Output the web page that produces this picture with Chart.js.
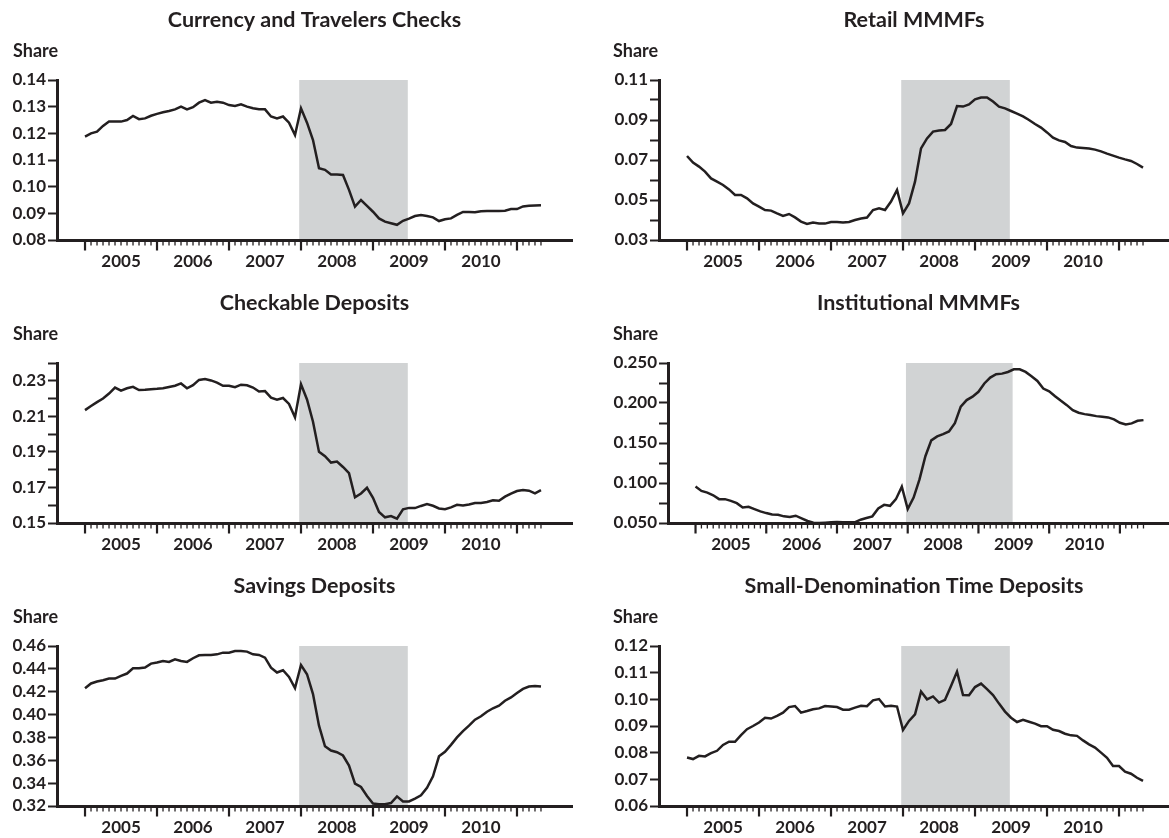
<!DOCTYPE html>
<html lang="en">
<head>
  <meta charset="UTF-8">
  <title>Shares of monetary assets</title>
  <style>
    body { margin: 0; background: #fff; }
    #wrap { position: relative; width: 1169px; height: 838px; overflow: hidden; }
    #wrap canvas { position: absolute; }
  </style>
</head>
<body>
  <div id="wrap">
    <canvas id="currencyChart" width="584" height="272" style="left:0;top:0"></canvas>
    <canvas id="retailChart" width="569" height="272" style="left:600px;top:0"></canvas>
    <canvas id="checkableChart" width="584" height="272" style="left:0;top:283px"></canvas>
    <canvas id="institutionalChart" width="569" height="272" style="left:600px;top:283px"></canvas>
    <canvas id="savingsChart" width="584" height="272" style="left:0;top:566px"></canvas>
    <canvas id="smallTimeChart" width="569" height="272" style="left:600px;top:566px"></canvas>
  </div>
  <script src="https://cdn.jsdelivr.net/npm/chart.js"></script>
  <script>
    // monthly observations, Jan 2005 .. May 2011 (index 0 = Jan 2005)
    const monthCount = 77;
    const yearLabels = ["2005", "2006", "2007", "2008", "2009", "2010"];
    // recession shading, in months since Jan 2005 (Dec 2007 - Jun 2009)
    const recession = [35.7, 53.8];
    const yAxisLabel = "Share";

    const currency = [
      0.1188, 0.1200, 0.1206, 0.1228, 0.1244, 0.1244, 0.1244, 0.1250, 0.1265, 0.1253,
      0.1256, 0.1266, 0.1273, 0.1279, 0.1284, 0.1290, 0.1300, 0.1290, 0.1298, 0.1315,
      0.1325, 0.1315, 0.1318, 0.1315, 0.1306, 0.1303, 0.1309, 0.1300, 0.1294, 0.1290,
      0.1290, 0.1263, 0.1256, 0.1263, 0.1240, 0.1194, 0.1294, 0.1240, 0.1175, 0.1069,
      0.1063, 0.1046, 0.1046, 0.1044, 0.0988, 0.0925, 0.0950, 0.0928, 0.0906, 0.0881,
      0.0869, 0.0863, 0.0857, 0.0872, 0.0880, 0.0890, 0.0894, 0.0890, 0.0885, 0.0871,
      0.0878, 0.0881, 0.0894, 0.0905, 0.0905, 0.0904, 0.0908, 0.0909, 0.0909, 0.0909,
      0.0910, 0.0916, 0.0916, 0.0926, 0.0928, 0.0929, 0.0930
    ];

    const retail = [
      0.0720, 0.0687, 0.0667, 0.0642, 0.0608, 0.0592, 0.0575, 0.0553, 0.0525, 0.0525,
      0.0508, 0.0483, 0.0467, 0.0450, 0.0447, 0.0433, 0.0420, 0.0430, 0.0413, 0.0392,
      0.0380, 0.0387, 0.0383, 0.0382, 0.0390, 0.0390, 0.0387, 0.0390, 0.0400, 0.0407,
      0.0412, 0.0450, 0.0458, 0.0450, 0.0492, 0.0550, 0.0433, 0.0483, 0.0592, 0.0758,
      0.0808, 0.0842, 0.0847, 0.0850, 0.0880, 0.0970, 0.0967, 0.0978, 0.1003, 0.1012,
      0.1013, 0.0992, 0.0967, 0.0958, 0.0945, 0.0932, 0.0918, 0.0900, 0.0880, 0.0862,
      0.0838, 0.0812, 0.0798, 0.0790, 0.0770, 0.0762, 0.0760, 0.0757, 0.0752, 0.0743,
      0.0732, 0.0722, 0.0712, 0.0703, 0.0695, 0.0680, 0.0662
    ];

    const checkable = [
      0.2135, 0.2158, 0.2180, 0.2200, 0.2228, 0.2262, 0.2245, 0.2258, 0.2266, 0.2248,
      0.2250, 0.2253, 0.2255, 0.2258, 0.2265, 0.2272, 0.2285, 0.2258, 0.2275, 0.2305,
      0.2310, 0.2302, 0.2290, 0.2272, 0.2272, 0.2264, 0.2278, 0.2275, 0.2262, 0.2240,
      0.2242, 0.2205, 0.2193, 0.2203, 0.2170, 0.2095, 0.2280, 0.2195, 0.2070, 0.1900,
      0.1876, 0.1840, 0.1846, 0.1815, 0.1780, 0.1645, 0.1666, 0.1698, 0.1642, 0.1562,
      0.1532, 0.1539, 0.1524, 0.1577, 0.1585, 0.1584, 0.1596, 0.1606, 0.1597, 0.1582,
      0.1578, 0.1588, 0.1602, 0.1598, 0.1604, 0.1612, 0.1613, 0.1618, 0.1628, 0.1625,
      0.1648, 0.1665, 0.1680, 0.1686, 0.1682, 0.1667, 0.1685
    ];

    const institutional = [
      0.0955, 0.0901, 0.0880, 0.0847, 0.0798, 0.0798, 0.0777, 0.0748, 0.0694, 0.0702,
      0.0674, 0.0645, 0.0624, 0.0607, 0.0603, 0.0583, 0.0574, 0.0591, 0.0558, 0.0525,
      0.0504, 0.0500, 0.0504, 0.0508, 0.0512, 0.0508, 0.0508, 0.0508, 0.0541, 0.0562,
      0.0583, 0.0682, 0.0727, 0.0715, 0.0798, 0.0955, 0.0674, 0.0818, 0.1045, 0.1335,
      0.1533, 0.1583, 0.1612, 0.1645, 0.1748, 0.1955, 0.2037, 0.2079, 0.2140, 0.2244,
      0.2318, 0.2360, 0.2367, 0.2388, 0.2421, 0.2421, 0.2388, 0.2334, 0.2276, 0.2180,
      0.2147, 0.2085, 0.2027, 0.1973, 0.1911, 0.1878, 0.1861, 0.1849, 0.1836, 0.1828,
      0.1820, 0.1795, 0.1753, 0.1732, 0.1745, 0.1778, 0.1786
    ];

    const savings = [
      0.4231, 0.4272, 0.4289, 0.4301, 0.4315, 0.4315, 0.4339, 0.4359, 0.4405, 0.4405,
      0.4411, 0.4446, 0.4455, 0.4469, 0.4461, 0.4484, 0.4469, 0.4461, 0.4493, 0.4519,
      0.4522, 0.4522, 0.4527, 0.4542, 0.4542, 0.4556, 0.4556, 0.4551, 0.4527, 0.4522,
      0.4498, 0.4411, 0.4368, 0.4388, 0.4330, 0.4231, 0.4434, 0.4353, 0.4179, 0.3903,
      0.3723, 0.3685, 0.3671, 0.3642, 0.3554, 0.3395, 0.3366, 0.3287, 0.3221, 0.3215,
      0.3215, 0.3226, 0.3284, 0.3240, 0.3240, 0.3265, 0.3293, 0.3360, 0.3460, 0.3635,
      0.3675, 0.3735, 0.3800, 0.3855, 0.3903, 0.3955, 0.3985, 0.4025, 0.4055, 0.4077,
      0.4121, 0.4150, 0.4188, 0.4225, 0.4245, 0.4251, 0.4245
    ];

    const smallTime = [
      0.0782, 0.0776, 0.0788, 0.0786, 0.0798, 0.0807, 0.0829, 0.0841, 0.0841, 0.0866,
      0.0888, 0.0900, 0.0913, 0.0931, 0.0928, 0.0938, 0.0950, 0.0971, 0.0975, 0.0950,
      0.0956, 0.0963, 0.0966, 0.0975, 0.0973, 0.0971, 0.0961, 0.0961, 0.0969, 0.0976,
      0.0974, 0.0996, 0.1001, 0.0973, 0.0976, 0.0973, 0.0885, 0.0919, 0.0944, 0.1029,
      0.1000, 0.1011, 0.0988, 0.0998, 0.1050, 0.1104, 0.1016, 0.1015, 0.1046, 0.1059,
      0.1038, 0.1016, 0.0984, 0.0954, 0.0931, 0.0915, 0.0923, 0.0916, 0.0909, 0.0899,
      0.0899, 0.0886, 0.0881, 0.0871, 0.0865, 0.0863, 0.0846, 0.0831, 0.0819, 0.0800,
      0.0781, 0.0750, 0.0750, 0.0729, 0.0721, 0.0706, 0.0694
    ];

    const ink = "#231f20";
    const shade = "#d1d3d4";
    const monthIndex = Array.from({ length: monthCount }, (_, i) => i);

    const recessionShade = {
      id: "recessionShade",
      beforeDraw(chart) {
        const { ctx, chartArea, scales: { x } } = chart;
        const x0 = x.getPixelForValue(recession[0]);
        const x1 = x.getPixelForValue(recession[1]);
        ctx.save();
        ctx.fillStyle = shade;
        ctx.fillRect(x0, chartArea.top, x1 - x0, chartArea.bottom - chartArea.top);
        ctx.restore();
      },
    };

    // small monthly ticks under the x axis, longer ones at each January
    const monthTicks = {
      id: "monthTicks",
      afterDraw(chart) {
        const { ctx, chartArea, scales: { x } } = chart;
        ctx.save();
        ctx.strokeStyle = ink;
        monthIndex.forEach((m) => {
          const px = x.getPixelForValue(m);
          const major = m % 12 === 0;
          ctx.lineWidth = major ? 2.2 : 1.3;
          ctx.beginPath();
          ctx.moveTo(px, chartArea.bottom);
          ctx.lineTo(px, chartArea.bottom + (major ? 10.5 : 5.5));
          ctx.stroke();
        });
        ctx.restore();
      },
    };

    const panelText = {
      id: "panelText",
      afterDraw(chart, args, opts) {
        const { ctx, chartArea } = chart;
        ctx.save();
        ctx.fillStyle = ink;
        ctx.textBaseline = "middle";
        ctx.font = "bold 21.5px Lato";
        ctx.textAlign = "center";
        ctx.fillText(opts.title, (chartArea.left + chartArea.right) / 2, 20);
        ctx.font = "bold 18px Lato";
        ctx.textAlign = "left";
        ctx.fillText(yAxisLabel, 13, 51);
        ctx.restore();
      },
    };

    function drawPanel(id, title, values, y, layout) {
      const tickFont = { family: "Lato", size: 17, weight: "bold" };
      new Chart(document.getElementById(id), {
        type: "line",
        data: {
          labels: monthIndex,
          datasets: [{
            data: values,
            borderColor: ink,
            borderWidth: 2.5,
            pointRadius: 0,
            tension: 0,
            fill: false,
          }],
        },
        options: {
          responsive: false,
          animation: false,
          events: [],
          layout: { padding: { top: 80, left: 13, right: layout.right, bottom: 0 } },
          plugins: {
            legend: { display: false },
            tooltip: { enabled: false },
            panelText: { title },
          },
          scales: {
            x: {
              type: "linear",
              min: -4.67,
              max: layout.xMax,
              afterBuildTicks: (s) => {
                s.ticks = yearLabels.map((_, k) => ({ value: 6 + 12 * k }));
              },
              afterFit: (s) => { s.height = 32; },
              ticks: {
                callback: (v, i) => yearLabels[i],
                autoSkip: false,
                maxRotation: 0,
                padding: 11,
                color: ink,
                font: tickFont,
              },
              grid: { display: true, drawOnChartArea: false, drawTicks: false },
              border: { display: true, color: ink, width: 3 },
            },
            y: {
              min: y.min,
              max: y.max,
              afterFit: (s) => { s.width = layout.axisWidth; },
              ticks: {
                stepSize: y.step,
                autoSkip: false,
                padding: 2,
                color: ink,
                font: tickFont,
                callback: (v, i) => (i % y.every === 0 ? v.toFixed(y.dec) : ""),
              },
              grid: {
                display: true,
                drawOnChartArea: false,
                drawTicks: true,
                tickLength: 9,
                tickWidth: 2,
                tickColor: ink,
              },
              border: { display: true, color: ink, width: 3 },
            },
          },
        },
        plugins: [recessionShade, monthTicks, panelText],
      });
    }

    const leftCol = { right: 12, xMax: 81.17, axisWidth: 44 };
    const rightCol = { right: 0, xMax: 80.33, axisWidth: 46 };

    drawPanel("currencyChart", "Currency and Travelers Checks", currency,
      { min: 0.08, max: 0.14, step: 0.01, every: 1, dec: 2 }, leftCol);
    drawPanel("retailChart", "Retail MMMFs", retail,
      { min: 0.03, max: 0.11, step: 0.01, every: 2, dec: 2 }, rightCol);
    drawPanel("checkableChart", "Checkable Deposits", checkable,
      { min: 0.15, max: 0.24, step: 0.01, every: 2, dec: 2 }, leftCol);
    drawPanel("institutionalChart", "Institutional MMMFs", institutional,
      { min: 0.05, max: 0.25, step: 0.025, every: 2, dec: 3 }, { ...rightCol, axisWidth: 55 });
    drawPanel("savingsChart", "Savings Deposits", savings,
      { min: 0.32, max: 0.46, step: 0.02, every: 1, dec: 2 }, leftCol);
    drawPanel("smallTimeChart", "Small-Denomination Time Deposits", smallTime,
      { min: 0.06, max: 0.12, step: 0.01, every: 1, dec: 2 }, rightCol);
  </script>
</body>
</html>
